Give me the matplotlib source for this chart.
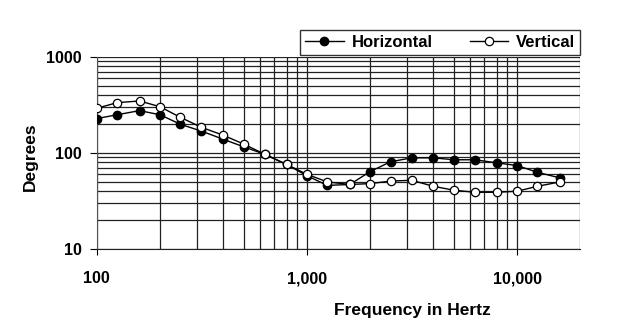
import matplotlib
matplotlib.use("Agg")
from matplotlib import pyplot as plt
from matplotlib.ticker import FixedLocator, FixedFormatter, NullFormatter
import numpy as np

plt.rcParams["font.family"] = ["Liberation Sans", "DejaVu Sans"]
plt.rcParams["font.weight"] = "bold"

# third-octave band centres
freq = [100, 125, 160, 200, 250, 315, 400, 500, 630, 800, 1000, 1250,
        1600, 2000, 2500, 3150, 4000, 5000, 6300, 8000, 10000, 12500, 16000]
horizontal = [228, 250, 276, 250, 199, 169, 139, 116, 97, 76, 58, 46,
              47, 64, 81, 89, 89, 85, 85, 79, 74, 63, 55]
vertical = [292, 334, 348, 303, 235, 185, 153, 124, 97, 76, 60, 50,
            47, 48, 51, 52, 45, 41, 39, 39, 40, 45, 50]

x_ticks = [100, 1000, 10000]
x_labels = ["100", "1,000", "10,000"]
y_ticks = [10, 100, 1000]
y_labels = ["10", "100", "1000"]

fig = plt.figure(figsize=(6.2, 3.29), dpi=100, facecolor="white")
ax = fig.add_axes([0.156, 0.243, 0.78, 0.584])

ax.set_xscale("log")
ax.set_yscale("log")
ax.set_xlim(100, 20000)
ax.set_ylim(10, 1000)

# grid at every decade step
xgrid = [m * 10 ** e for e in (2, 3, 4) for m in range(1, 10) if m * 10 ** e <= 20000]
ygrid = [m * 10 ** e for e in (1, 2) for m in range(1, 10)] + [1000]
for g in xgrid:
    ax.axvline(g, color="#222222", lw=0.9, zorder=1)
for g in ygrid:
    ax.axhline(g, color="#222222", lw=0.9, zorder=1)

ax.plot(freq, horizontal, color="black", lw=1, marker="o", ms=6,
        mfc="black", mec="black", label="Horizontal", zorder=3)
ax.plot(freq, vertical, color="black", lw=1, marker="o", ms=6,
        mfc="white", mec="black", mew=0.9, label="Vertical", zorder=3)

for s in ("top", "right"):
    ax.spines[s].set_visible(False)
ax.spines["left"].set_color("#555555")
ax.spines["bottom"].set_color("#222222")

ax.xaxis.set_major_locator(FixedLocator(x_ticks))
ax.xaxis.set_major_formatter(FixedFormatter(x_labels))
ax.xaxis.set_minor_formatter(NullFormatter())
ax.yaxis.set_major_locator(FixedLocator(y_ticks))
ax.yaxis.set_major_formatter(FixedFormatter(y_labels))
ax.yaxis.set_minor_formatter(NullFormatter())
ax.tick_params(which="minor", length=0)
ax.tick_params(axis="x", which="major", length=4, pad=12, labelsize=11.5)
ax.tick_params(axis="y", which="major", length=5, pad=6, labelsize=11.5)

fig.text(412 / 620, 1 - 310 / 329, "Frequency in Hertz", fontsize=12.5,
         fontweight="bold", ha="center", va="center")
fig.text(30 / 620, 1 - 157 / 329, "Degrees", fontsize=12.5,
         fontweight="bold", ha="center", va="center", rotation=90)

leg = ax.legend(loc="lower right", bbox_to_anchor=(1.0, 1.01), ncol=2,
                frameon=True, fancybox=False, edgecolor="black",
                fontsize=12, handlelength=2.3, columnspacing=2.2,
                borderpad=0.3, handletextpad=0.5, borderaxespad=0)
leg.get_frame().set_linewidth(1)
for t in leg.get_texts():
    t.set_fontweight("bold")

fig.savefig("out.png", dpi=100, facecolor="white")
